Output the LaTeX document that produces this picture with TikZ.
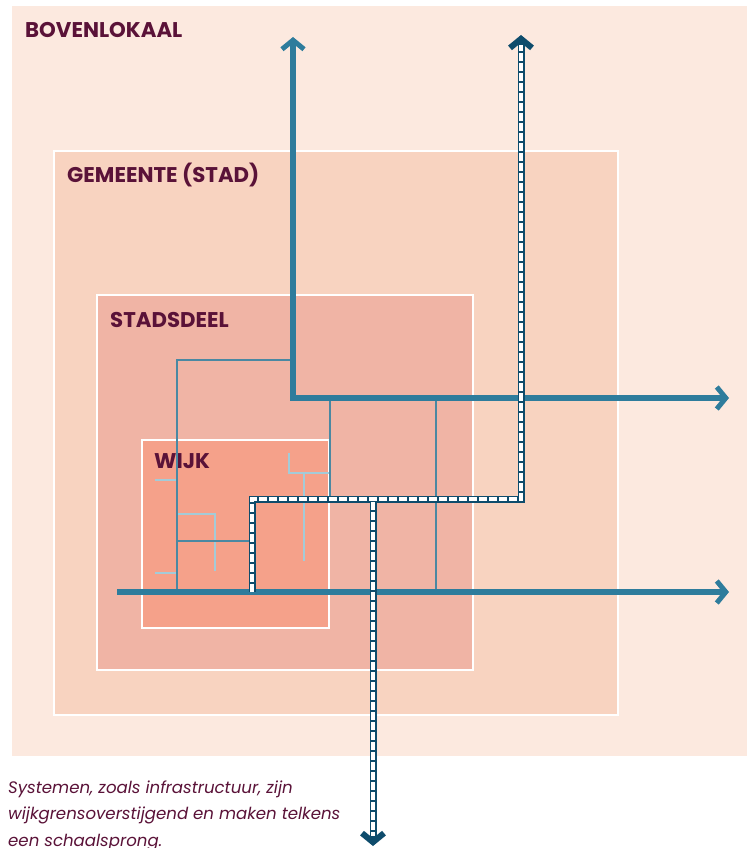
\documentclass[tikz,border=0pt]{standalone}
\usepackage{fontspec}
\setmainfont{Poppins}
\usetikzlibrary{arrows.meta,calc}
\definecolor{cOut}{HTML}{FCE9DF}
\definecolor{cGem}{HTML}{F8D3C0}
\definecolor{cSta}{HTML}{F0B4A5}
\definecolor{cWijk}{HTML}{F5A18A}
\definecolor{cLab}{HTML}{5A1238}
\definecolor{cBlue}{HTML}{2E7C9C}
\definecolor{cThin}{HTML}{4A88A2}
\definecolor{cLight}{HTML}{A3CBD8}
\definecolor{cNavy}{HTML}{0E4C6C}
\tikzset{
  zone/.style={anchor=north west,inner sep=0pt,outer sep=0pt,draw=white,line width=2pt},
  lab/.style={anchor=base west,inner sep=0pt,text=cLab,font=\bfseries\fontsize{21.3}{25}\selectfont},
  thickarrow/.style={draw=cBlue,line width=6pt,-{Straight Barb[length=9pt,width=22pt,line width=5pt]}},
  thin/.style={draw=cThin,line width=2pt},
  light/.style={draw=cLight,line width=2.5pt},
  ladderin/.style={draw=white,line width=3.6pt,dash pattern=on 7.6pt off 2.4pt},
  ladtip/.style={draw=cNavy,line width=7pt,-{Straight Barb[length=9pt,width=22pt,line width=6pt]}},
}
\begin{document}
\begin{tikzpicture}[x=1pt,y=-1pt]
\useasboundingbox (0,0) rectangle (747,848);
\fill[white] (0,0) rectangle (747,848);
% zones
\node[zone,draw=none,fill=cOut,minimum width=735pt,minimum height=750pt] (bov) at (12,6) {};
\node[zone,fill=cGem,minimum width=564pt,minimum height=564pt] (gem) at (54,151) {};
\node[zone,fill=cSta,minimum width=376pt,minimum height=375pt] (sta) at (97,295) {};
\node[zone,fill=cWijk,minimum width=187pt,minimum height=188pt] (wijk) at (142,440) {};
% labels
\node[lab] (lbov) at (25,38) {BOVENLOKAAL};
\node[lab] (lgem) at (67,182) {GEMEENTE (STAD)};
\node[lab] (lsta) at (110,327) {STADSDEEL};
\node[lab] (lwijk) at (154,468) {WIJK};
% coordinates
\coordinate (c1) at (293,398);
\coordinate (topA) at (293,37);
\coordinate (rightA) at (729,398);
\coordinate (leftB) at (117,592);
\coordinate (rightB) at (729,592);
\coordinate (t1) at (293,360);
\coordinate (t2) at (177,360);
\coordinate (t3) at (177,592);
\coordinate (t4) at (330,398);
\coordinate (t5) at (330,499);
\coordinate (t6) at (436,398);
\coordinate (t7) at (436,592);
\coordinate (t8) at (177,541);
\coordinate (t9) at (252,541);
\coordinate (l1a) at (155,480);
\coordinate (l1b) at (177,480);
\coordinate (l2a) at (155,573);
\coordinate (l2b) at (177,573);
\coordinate (l3a) at (177,514);
\coordinate (l3b) at (215,514);
\coordinate (l3c) at (215,571);
\coordinate (l4a) at (289,453);
\coordinate (l4b) at (289,473);
\coordinate (l4c) at (330,473);
\coordinate (l5a) at (304,473);
\coordinate (l5b) at (304,561);
\coordinate (d0) at (252,592);
\coordinate (d1) at (252,499);
\coordinate (d2) at (521,499);
\coordinate (dtop) at (521,35);
\coordinate (e0) at (373,499);
\coordinate (ebot) at (373,846);
% light lines
\draw[light] (l1a) -- (l1b);
\draw[light] (l2a) -- (l2b);
\draw[light] (l3a) -- (l3b) -- (l3c);
\draw[light] (l4a) -- (l4b) -- (l4c);
\draw[light] (l5a) -- (l5b);
% thin lines
\draw[thin] (t1) -- (t2) -- (t3);
\draw[thin] (t4) -- (t5);
\draw[thin] (t6) -- (t7);
\draw[thin] (t8) -- (t9);
% thick arrows
\draw[thickarrow] (c1) -- (topA);
\draw[thickarrow] (c1) -- (rightA);
\draw[thickarrow] (leftB) -- (rightB);
\fill[cBlue] ($(c1)+(-3,-3)$) rectangle ($(c1)+(3,3)$);
% ladders
\draw[ladtip,line join=miter] (d0) -- (d1) -- (d2) -- (dtop);
\draw[ladtip] (e0) -- (ebot);
\draw[ladderin] (d0) -- (d1) -- (d2) -- ($(dtop)+(0,10)$);
\draw[ladderin] ($(e0)+(0,3)$) -- ($(ebot)+(0,-10)$);
% caption
\node[anchor=base west,inner sep=0pt,text=cLab,font=\itshape\fontsize{16.6}{26.5}\selectfont,align=left] (cap) at (8,846)
  {Systemen, zoals infrastructuur, zijn\\wijkgrensoverstijgend en maken telkens\\een schaalsprong.};
\end{tikzpicture}
\end{document}
